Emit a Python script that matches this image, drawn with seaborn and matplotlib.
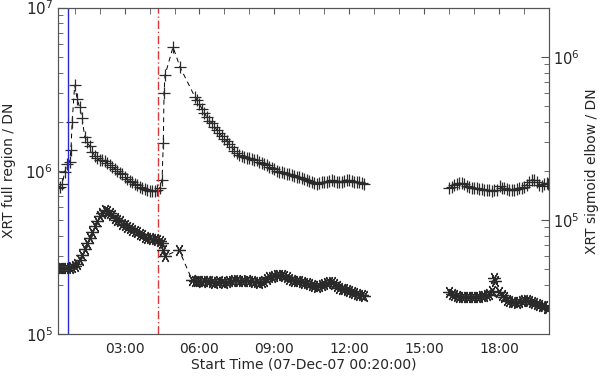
import numpy as np
import pandas as pd
import matplotlib
matplotlib.use("Agg")
import matplotlib.pyplot as plt
import matplotlib.ticker as mticker
import seaborn as sns

# time in hours of 07-Dec-07, counts in DN
# XRT full region (plus markers, left axis)
full_t1 = [0.35, 0.4, 0.5, 0.6, 0.7, 0.8, 0.85, 0.9, 1.0, 1.1, 1.2, 1.3, 1.4, 1.5, 1.6, 1.7,
           1.8, 1.9, 2.0, 2.1, 2.2, 2.3, 2.4, 2.5, 2.6, 2.7, 2.8, 2.9, 3.0, 3.1, 3.2, 3.3,
           3.4, 3.5, 3.6, 3.7, 3.8, 3.9, 4.0, 4.1, 4.2, 4.3, 4.4, 4.5, 4.55, 4.58, 4.62,
           4.94, 5.22, 5.82, 5.9, 6.0, 6.1, 6.2, 6.3, 6.4, 6.5, 6.6, 6.7, 6.8, 6.9, 7.0,
           7.1, 7.2, 7.3, 7.4, 7.5, 7.6, 7.7, 7.8, 7.9, 8.0, 8.1, 8.2, 8.3, 8.4, 8.5, 8.6,
           8.7, 8.8, 8.9, 9.0, 9.1, 9.2, 9.3, 9.4, 9.5, 9.6, 9.7, 9.8, 9.9, 10.0, 10.1,
           10.2, 10.3, 10.4, 10.5, 10.6, 10.7, 10.8, 10.9, 11.0, 11.1, 11.2, 11.3, 11.4,
           11.5, 11.6, 11.7, 11.8, 11.9, 12.0, 12.1, 12.2, 12.3, 12.4, 12.5, 12.6]
full_v1 = [7.9e5, 8.0e5, 8.3e5, 9.8e5, 1.10e6, 1.14e6, 1.34e6, 2.0e6, 3.35e6, 2.75e6, 2.45e6,
           2.1e6, 1.62e6, 1.50e6, 1.42e6, 1.31e6, 1.24e6, 1.19e6, 1.16e6, 1.16e6, 1.15e6,
           1.12e6, 1.09e6, 1.06e6, 1.03e6, 1.0e6, 9.7e5, 9.5e5, 9.2e5, 8.9e5, 8.7e5, 8.5e5,
           8.3e5, 8.2e5, 8.0e5, 7.9e5, 7.75e5, 7.65e5, 7.55e5, 7.5e5, 7.5e5, 7.6e5, 7.8e5,
           8.8e5, 1.48e6, 3.0e6, 3.86e6, 5.73e6, 4.32e6, 2.83e6, 2.72e6, 2.55e6, 2.4e6,
           2.25e6, 2.13e6, 2.03e6, 1.95e6, 1.86e6, 1.78e6, 1.70e6, 1.63e6, 1.57e6, 1.52e6,
           1.45e6, 1.39e6, 1.33e6, 1.29e6, 1.25e6, 1.23e6, 1.21e6, 1.20e6, 1.19e6, 1.18e6,
           1.17e6, 1.16e6, 1.14e6, 1.12e6, 1.10e6, 1.08e6, 1.06e6, 1.04e6, 1.02e6, 1.00e6,
           9.9e5, 9.8e5, 9.7e5, 9.6e5, 9.5e5, 9.4e5, 9.3e5, 9.2e5, 9.1e5, 9.0e5, 8.9e5,
           8.8e5, 8.7e5, 8.5e5, 8.4e5, 8.3e5, 8.4e5, 8.5e5, 8.6e5, 8.6e5, 8.7e5, 8.8e5,
           8.7e5, 8.6e5, 8.5e5, 8.6e5, 8.7e5, 8.8e5, 8.8e5, 8.7e5, 8.6e5, 8.6e5, 8.5e5,
           8.4e5, 8.3e5]
full_t2 = [16.0, 16.1, 16.2, 16.3, 16.4, 16.5, 16.6, 16.7, 16.8, 16.9, 17.0, 17.1, 17.2,
           17.3, 17.4, 17.5, 17.6, 17.7, 17.8, 17.9]
full_v2 = [7.8e5, 8.0e5, 8.2e5, 8.3e5, 8.4e5, 8.4e5, 8.3e5, 8.1e5, 8.0e5, 7.9e5, 7.9e5,
           7.8e5, 7.7e5, 7.7e5, 7.6e5, 7.6e5, 7.6e5, 7.5e5, 7.6e5, 7.6e5]
full_t3 = [18.05, 18.1, 18.2, 18.3, 18.4, 18.5, 18.6, 18.7, 18.8, 18.9, 19.0, 19.1, 19.2,
           19.3, 19.4, 19.5, 19.6, 19.7, 19.8, 19.9, 19.97]
full_v3 = [8.1e5, 7.9e5, 7.8e5, 7.7e5, 7.6e5, 7.6e5, 7.6e5, 7.7e5, 7.8e5, 7.9e5, 8.0e5,
           8.2e5, 8.5e5, 8.8e5, 8.8e5, 8.6e5, 8.2e5, 8.1e5, 8.3e5, 8.4e5, 8.3e5]

# XRT sigmoid elbow (asterisks, right axis)
elbow_t1 = [0.35, 0.4, 0.5, 0.6, 0.7, 0.8, 0.9, 1.0, 1.1, 1.2, 1.3, 1.4, 1.5, 1.6, 1.7, 1.8,
            1.9, 2.0, 2.1, 2.2, 2.3, 2.4, 2.5, 2.6, 2.7, 2.8, 2.9, 3.0, 3.1, 3.2, 3.3, 3.4,
            3.5, 3.6, 3.7, 3.8, 3.9, 4.0, 4.1, 4.2, 4.3, 4.4, 4.5, 4.55, 4.6, 5.18, 5.7,
            5.8, 5.9, 6.0, 6.1, 6.2, 6.3, 6.4, 6.5, 6.6, 6.7, 6.8, 6.9, 7.0, 7.1, 7.2, 7.3,
            7.4, 7.5, 7.6, 7.7, 7.8, 7.9, 8.0, 8.1, 8.2, 8.3, 8.4, 8.5, 8.6, 8.7, 8.8, 8.9,
            9.0, 9.1, 9.2, 9.3, 9.4, 9.5, 9.6, 9.7, 9.8, 9.9, 10.0, 10.1, 10.2, 10.3, 10.4,
            10.5, 10.6, 10.7, 10.8, 10.9, 11.0, 11.1, 11.2, 11.3, 11.4, 11.5, 11.6, 11.7,
            11.8, 11.9, 12.0, 12.1, 12.2, 12.3, 12.4, 12.5, 12.6]
elbow_v1 = [5.1e4, 5.1e4, 5.05e4, 5.1e4, 5.1e4, 5.1e4, 5.15e4, 5.2e4, 5.35e4, 5.7e4, 6.1e4,
            6.6e4, 7.2e4, 7.7e4, 8.4e4, 9.2e4, 9.9e4, 1.05e5, 1.10e5, 1.15e5, 1.14e5,
            1.10e5, 1.07e5, 1.03e5, 1.0e5, 9.8e4, 9.5e4, 9.3e4, 9.1e4, 8.9e4, 8.7e4, 8.5e4,
            8.4e4, 8.2e4, 8.1e4, 7.9e4, 7.8e4, 7.7e4, 7.6e4, 7.6e4, 7.5e4, 7.4e4, 7.2e4,
            6.5e4, 6.0e4, 6.55e4, 4.3e4, 4.2e4, 4.25e4, 4.2e4, 4.15e4, 4.2e4, 4.25e4,
            4.2e4, 4.15e4, 4.1e4, 4.15e4, 4.2e4, 4.15e4, 4.1e4, 4.15e4, 4.2e4, 4.25e4,
            4.3e4, 4.3e4, 4.25e4, 4.2e4, 4.25e4, 4.3e4, 4.25e4, 4.2e4, 4.15e4, 4.15e4,
            4.1e4, 4.15e4, 4.25e4, 4.35e4, 4.45e4, 4.5e4, 4.55e4, 4.6e4, 4.6e4, 4.6e4,
            4.55e4, 4.45e4, 4.35e4, 4.3e4, 4.25e4, 4.2e4, 4.2e4, 4.15e4, 4.1e4, 4.1e4,
            4.05e4, 4.0e4, 3.95e4, 3.9e4, 3.95e4, 4.0e4, 4.05e4, 4.1e4, 4.15e4, 4.15e4,
            4.05e4, 3.95e4, 3.85e4, 3.8e4, 3.75e4, 3.7e4, 3.65e4, 3.6e4, 3.55e4, 3.5e4,
            3.45e4, 3.45e4, 3.4e4]
elbow_t2 = [16.0, 16.1, 16.2, 16.3, 16.4, 16.5, 16.6, 16.7, 16.8, 16.9, 17.0, 17.1, 17.2,
            17.3, 17.4, 17.5, 17.6, 17.7, 17.8, 17.85, 18.0, 18.1, 18.2, 18.3, 18.4, 18.5,
            18.6, 18.7, 18.8, 18.9, 19.0, 19.1, 19.2, 19.3, 19.4, 19.5, 19.6, 19.7, 19.8,
            19.9, 19.97]
elbow_v2 = [3.6e4, 3.5e4, 3.45e4, 3.4e4, 3.38e4, 3.38e4, 3.35e4, 3.35e4, 3.38e4, 3.38e4,
            3.35e4, 3.35e4, 3.38e4, 3.4e4, 3.42e4, 3.45e4, 3.5e4, 3.65e4, 4.4e4, 4.2e4,
            3.6e4, 3.45e4, 3.35e4, 3.25e4, 3.2e4, 3.15e4, 3.15e4, 3.1e4, 3.15e4, 3.2e4,
            3.25e4, 3.25e4, 3.2e4, 3.15e4, 3.1e4, 3.05e4, 3.0e4, 2.95e4, 2.95e4, 2.9e4,
            2.9e4]

start_line = 0.75   # blue solid marker
flare_line = 4.35   # red dash-dot marker


def segments(pairs):
    frames = []
    for i, (t, v) in enumerate(pairs):
        frames.append(pd.DataFrame({"t": t, "v": v, "seg": i}))
    return pd.concat(frames, ignore_index=True)


full = segments([(full_t1, full_v1), (full_t2, full_v2), (full_t3, full_v3)])
elbow = segments([(elbow_t1, elbow_v1), (elbow_t2, elbow_v2)])

sns.set_style("white")
plt.rcParams["font.family"] = ["DejaVu Sans"]
plt.rcParams["mathtext.default"] = "regular"
plt.rcParams["font.size"] = 10

fig = plt.figure(figsize=(6, 3.8), dpi=100)
ax = fig.add_axes([0.0967, 0.121, 0.8183, 0.859])
ax.set_yscale("log")
ax2 = ax.twinx()
ax2.set_yscale("log")

sns.lineplot(data=full, x="t", y="v", units="seg", estimator=None, sort=False, ax=ax,
             color="black", lw=0.7, linestyle=(0, (5, 4)), marker="+", markersize=9,
             markeredgewidth=0.9, markeredgecolor="#2a2a2a", legend=False)
sns.lineplot(data=elbow, x="t", y="v", units="seg", estimator=None, sort=False, ax=ax2,
             color="black", lw=0.7, linestyle=(0, (5, 4)), marker=(6, 2, 90), markersize=9,
             markeredgewidth=0.9, markeredgecolor="#2a2a2a", legend=False)

ax.axvline(start_line, color="#2a2ad0", lw=1.0)
ax.axvline(flare_line, color="#d83a3a", lw=1.0, linestyle=(0, (6, 2, 1, 2)))

ax.set_xlim(0.333, 20.0)
ax.set_ylim(1e5, 1e7)
ax2.set_ylim(2e4, 2e6)

ax.xaxis.set_major_locator(mticker.MultipleLocator(3))
ax.xaxis.set_minor_locator(mticker.MultipleLocator(1))
ax.xaxis.set_major_formatter(mticker.FuncFormatter(lambda h, pos: f"{int(round(h)):02d}:00"))
for a in (ax, ax2):
    a.yaxis.set_minor_formatter(mticker.NullFormatter())
    for s in a.spines.values():
        s.set_color("#555555")
        s.set_linewidth(0.8)

ax.tick_params(axis="x", which="both", direction="in", top=True, length=4,
               color="#555555", labelsize=10, pad=6)
ax.tick_params(axis="y", which="major", direction="in", length=6, right=False,
               color="#555555", labelsize=11)
ax.tick_params(axis="y", which="minor", direction="in", length=3.5, right=False,
               color="#555555")
ax2.tick_params(axis="y", which="major", direction="in", length=6, left=False,
                color="#555555", labelsize=10.5, pad=3)
ax2.tick_params(axis="y", which="minor", direction="in", length=3.5, left=False,
                color="#555555")

ax.set_xlabel("Start Time (07-Dec-07 00:20:00)", fontsize=10, labelpad=1)
ax.set_ylabel("XRT full region / DN", fontsize=10)
ax2.set_ylabel("XRT sigmoid elbow / DN", fontsize=10)
ax.yaxis.set_label_coords(-0.085, 0.5)
ax2.yaxis.set_label_coords(1.073, 0.5)

fig.savefig("out.png", dpi=100)
